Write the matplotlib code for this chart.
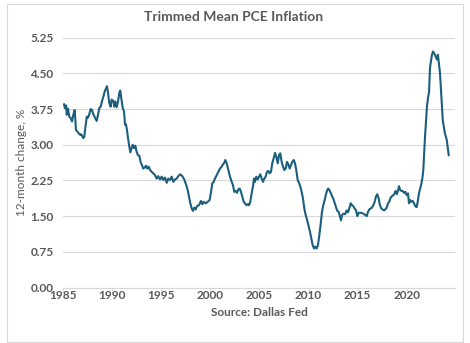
import matplotlib
matplotlib.use("Agg")
import matplotlib.pyplot as plt
from matplotlib.patches import Rectangle

years = [
    1985.07, 1985.17, 1985.28, 1985.35, 1985.48, 1985.61, 1985.75, 1985.89, 1986.02, 1986.16,
    1986.22, 1986.29, 1986.43, 1986.57, 1986.70, 1986.80, 1986.91, 1987.04, 1987.14, 1987.24,
    1987.39, 1987.52, 1987.65, 1987.79, 1987.93, 1988.06, 1988.23, 1988.40, 1988.54, 1988.67,
    1988.81, 1988.94, 1989.08, 1989.22, 1989.35, 1989.45, 1989.56, 1989.69, 1989.83, 1989.93,
    1990.10, 1990.20, 1990.30, 1990.44, 1990.58, 1990.71, 1990.81, 1990.91, 1991.06, 1991.19,
    1991.29, 1991.39, 1991.49, 1991.60, 1991.73, 1991.83, 1991.93, 1992.07, 1992.21, 1992.34,
    1992.48, 1992.61, 1992.75, 1992.89, 1993.02, 1993.15, 1993.30, 1993.43, 1993.56, 1993.71,
    1993.84, 1994.01, 1994.17,
    1994.35, 1994.52, 1994.68, 1994.86, 1995.03, 1995.19, 1995.37, 1995.54, 1995.70, 1995.88,
    1996.05, 1996.21, 1996.39, 1996.56, 1996.72, 1996.93, 1997.13, 1997.33, 1997.54, 1997.68,
    1997.81, 1997.95, 1998.09, 1998.22, 1998.35, 1998.50, 1998.63, 1998.83, 1999.04, 1999.17,
    1999.31, 1999.52, 1999.72, 1999.92, 2000.06, 2000.19, 2000.33, 2000.46, 2000.64, 2000.80,
    2000.97, 2001.15, 2001.28, 2001.41, 2001.51, 2001.66, 2001.82, 2001.99, 2002.17, 2002.30,
    2002.43, 2002.57, 2002.71, 2002.84, 2002.98, 2003.11, 2003.25, 2003.39, 2003.52, 2003.65,
    2003.80, 2003.93, 2004.06, 2004.20, 2004.34, 2004.44, 2004.54, 2004.67, 2004.82, 2004.95,
    2005.08, 2005.22, 2005.36, 2005.49, 2005.63, 2005.76, 2005.90, 2006.04, 2006.17, 2006.30,
    2006.45, 2006.58, 2006.71, 2006.86, 2006.99, 2007.12, 2007.26, 2007.40, 2007.53, 2007.67,
    2007.80, 2007.94, 2008.08, 2008.21, 2008.34, 2008.49, 2008.62, 2008.75, 2008.89, 2009.03,
    2009.16, 2009.30, 2009.43, 2009.57, 2009.71, 2009.84,
    2010.15, 2010.28, 2010.42, 2010.56, 2010.69, 2010.83, 2010.96, 2011.10, 2011.24, 2011.37,
    2011.50, 2011.65, 2011.78, 2011.91, 2012.01, 2012.12, 2012.26, 2012.39, 2012.52, 2012.67,
    2012.80, 2012.93, 2013.07, 2013.21, 2013.31, 2013.41, 2013.54, 2013.72, 2013.89, 2014.02,
    2014.15, 2014.30, 2014.43, 2014.56, 2014.70, 2014.84, 2014.97, 2015.11, 2015.25, 2015.42,
    2015.58, 2015.75, 2015.93, 2016.06, 2016.19, 2016.34, 2016.47, 2016.60, 2016.74, 2016.87,
    2017.01, 2017.15, 2017.28, 2017.42, 2017.56, 2017.69, 2017.82, 2017.97, 2018.10, 2018.23,
    2018.37, 2018.51, 2018.64, 2018.78, 2018.88, 2018.99, 2019.12, 2019.22, 2019.32, 2019.46,
    2019.60, 2019.73, 2019.86, 2020.01, 2020.14, 2020.24, 2020.34, 2020.47, 2020.62, 2020.75,
    2020.88, 2021.02, 2021.16, 2021.26, 2021.36, 2021.49, 2021.60, 2021.70,
    2021.77, 2021.87, 2022.07, 2022.18, 2022.28, 2022.38, 2022.58, 2022.69, 2022.89, 2023.09,
    2023.19, 2023.40, 2023.58, 2023.68, 2023.89, 2024.09, 2024.29]
values = [
    3.85, 3.77, 3.83, 3.63, 3.76, 3.59, 3.56, 3.49, 3.63, 3.73,
    3.56, 3.31, 3.28, 3.24, 3.21, 3.22, 3.19, 3.14, 3.17, 3.35,
    3.59, 3.57, 3.64, 3.75, 3.73, 3.64, 3.57, 3.50, 3.63, 3.77,
    3.80, 3.91, 4.01, 4.12, 4.18, 4.23, 4.09, 3.88, 3.80, 3.95,
    3.92, 3.80, 3.91, 3.79, 3.91, 4.09, 4.14, 3.98, 3.77, 3.70,
    3.42, 3.43, 3.31, 3.14, 2.96, 2.84, 2.91, 3.00, 2.93, 2.98,
    2.85, 2.78, 2.77, 2.63, 2.57, 2.50, 2.52, 2.56, 2.50, 2.54,
    2.47, 2.43, 2.40,
    2.36, 2.29, 2.34, 2.27, 2.33, 2.26, 2.31, 2.20, 2.29, 2.26,
    2.33, 2.22, 2.27, 2.29, 2.34, 2.38, 2.34, 2.27, 2.15, 2.05,
    1.91, 1.77, 1.66, 1.61, 1.68, 1.64, 1.71, 1.73, 1.82, 1.75,
    1.80, 1.77, 1.80, 1.84, 2.01, 2.19, 2.22, 2.29, 2.36, 2.43,
    2.50, 2.54, 2.59, 2.62, 2.68, 2.61, 2.47, 2.33, 2.22, 2.15,
    2.01, 2.03, 1.99, 2.06, 2.08, 2.01, 1.91, 1.80, 1.77, 1.73,
    1.75, 1.73, 1.80, 1.98, 2.13, 2.29, 2.22, 2.33, 2.27, 2.33,
    2.38, 2.29, 2.22, 2.29, 2.33, 2.43, 2.45, 2.40, 2.43, 2.61,
    2.72, 2.83, 2.75, 2.61, 2.78, 2.82, 2.64, 2.54, 2.47, 2.50,
    2.64, 2.59, 2.50, 2.57, 2.64, 2.68, 2.61, 2.47, 2.26, 2.20,
    2.12, 2.01, 1.87, 1.66, 1.52, 1.43,
    1.17, 1.03, 0.89, 0.82, 0.86, 0.82, 0.89, 1.10, 1.34, 1.59,
    1.73, 1.84, 1.96, 2.05, 2.08, 2.05, 1.99, 1.92, 1.87, 1.77,
    1.69, 1.61, 1.59, 1.48, 1.41, 1.52, 1.55, 1.54, 1.62, 1.58,
    1.66, 1.77, 1.73, 1.71, 1.66, 1.62, 1.50, 1.57, 1.57, 1.57,
    1.55, 1.53, 1.50, 1.59, 1.64, 1.66, 1.68, 1.73, 1.80, 1.91,
    1.96, 1.87, 1.73, 1.66, 1.64, 1.62, 1.64, 1.68, 1.77, 1.80,
    1.89, 1.92, 1.94, 1.98, 2.03, 1.96, 2.03, 2.13, 2.06, 2.03,
    2.03, 1.99, 2.01, 1.94, 1.98, 1.77, 1.84, 1.80, 1.82, 1.77,
    1.71, 1.69, 1.84, 1.98, 2.06, 2.17, 2.29, 2.47,
    2.74, 3.16, 3.80, 3.99, 4.10, 4.62, 4.89, 4.96, 4.89, 4.79,
    4.89, 4.51, 3.88, 3.52, 3.25, 3.10, 2.78]

x_ticks = [1985, 1990, 1995, 2000, 2005, 2010, 2015, 2020]
y_ticks = [0.00, 0.75, 1.50, 2.25, 3.00, 3.75, 4.50, 5.25]

title = "Trimmed Mean PCE Inflation"
ylabel = "12-month change, %"
xlabel = "Source: Dallas Fed"

txt = "#595959"
grid = "#d9d9d9"
line_color = "#1b5e7e"

plt.rcParams['font.family'] = ['Lato', 'DejaVu Sans']

W, H = 470, 343
fig = plt.figure(figsize=(W / 100, H / 100), dpi=100)
ax = fig.add_axes([63.3 / W, 1 - 287.5 / H, (455 - 63.3) / W, (287.5 - 37.7) / H])

ax.plot(years, values, color=line_color, lw=1.5, solid_joinstyle='round')

ax.set_xlim(1985, 2024.93)
ax.set_ylim(0, 5.25)
ax.set_yticks(y_ticks)
ax.set_yticklabels([f"{v:.2f}" for v in y_ticks])
ax.set_xticks(x_ticks)
ax.set_xticklabels([str(t) for t in x_ticks])

ax.grid(axis='y', color=grid, lw=0.8)
ax.set_axisbelow(True)
for s in ['top', 'right', 'left']:
    ax.spines[s].set_visible(False)
ax.spines['bottom'].set_color(grid)
ax.spines['bottom'].set_linewidth(0.8)
ax.tick_params(axis='y', length=0, pad=7, labelsize=8.5, labelcolor=txt)
ax.tick_params(axis='x', length=3, color=grid, width=0.8, pad=-1, labelsize=8.5, labelcolor=txt)
for lab in ax.get_xticklabels() + ax.get_yticklabels():
    lab.set_fontweight('bold')

fig.text(0.5 * (63.3 + 455) / W, 1 - 312 / H, xlabel, ha='center', va='center',
         fontsize=8.5, color=txt, fontweight='bold')
fig.text(22 / W, 1 - 162.6 / H, ylabel, ha='center', va='center', rotation=90,
         fontsize=8.5, color=txt)
fig.text(234 / W, 1 - 17 / H, title, ha='center', va='center',
         fontsize=10, color=txt, fontweight='bold')

fig.patches.append(Rectangle((6.5 / W, 0.003), (462.5 - 6.5) / W, 0.985,
                             transform=fig.transFigure, fill=False, edgecolor=grid, lw=0.8))

fig.savefig("out.png", dpi=100)
